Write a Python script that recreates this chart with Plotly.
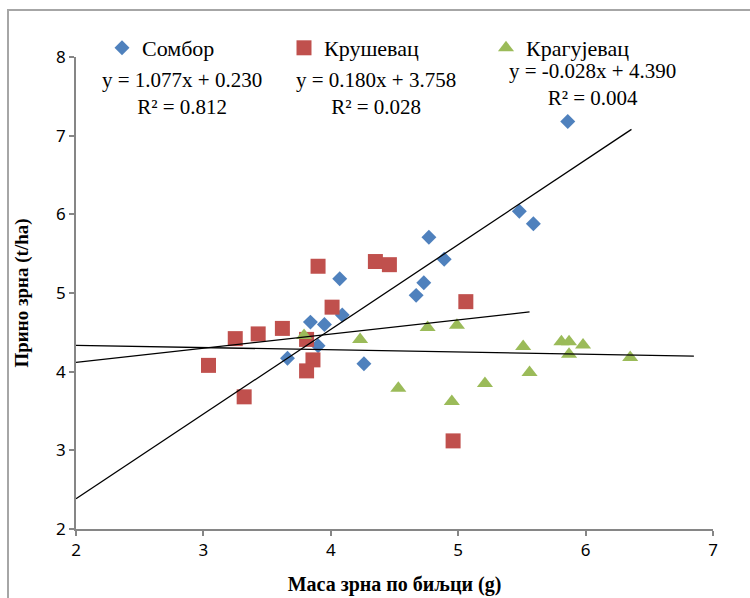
import plotly.graph_objects as go

# Grain mass per plant (g) vs. grain yield (t/ha) for three locations
somb_x = [5.86, 5.48, 5.59, 4.77, 4.89, 4.07, 4.73, 4.67, 4.09, 3.84, 3.95, 3.90, 3.66, 4.26]
somb_y = [7.18, 6.04, 5.88, 5.71, 5.43, 5.18, 5.13, 4.97, 4.72, 4.63, 4.60, 4.33, 4.17, 4.10]

krus_x = [3.90, 4.35, 4.46, 4.01, 3.62, 3.43, 3.25, 3.04, 3.32, 3.81, 3.86, 3.81, 5.06, 4.96]
krus_y = [5.34, 5.40, 5.36, 4.82, 4.55, 4.48, 4.42, 4.08, 3.68, 4.41, 4.15, 4.01, 4.89, 3.12]

krag_x = [3.79, 4.23, 4.76, 4.99, 5.51, 5.56, 5.21, 4.53, 4.95, 5.81, 5.87, 5.98, 5.87, 6.35]
krag_y = [4.46, 4.41, 4.56, 4.59, 4.32, 3.99, 3.85, 3.79, 3.62, 4.38, 4.38, 4.34, 4.22, 4.18]

series_names = ["Сомбор", "Крушевац", "Крагујевац"]
slopes = [1.077, 0.180, -0.028]
intercepts = [0.230, 3.758, 4.390]
r_squared = [0.812, 0.028, 0.004]

colors = ["#4F81BD", "#C0504D", "#9BBB59"]
symbols = ["diamond", "square", "triangle-up"]
sizes = [11.5, 15, 14]

xs = [somb_x, krus_x, krag_x]
ys = [somb_y, krus_y, krag_y]

X_MIN, X_MAX = 2, 7
Y_MIN, Y_MAX = 2, 8

fig = go.Figure()

legend_ids = ["legend", "legend2", "legend3"]

for i in range(3):
    fig.add_trace(go.Scatter(
        x=xs[i], y=ys[i], mode="markers", name=series_names[i],
        marker=dict(symbol=symbols[i], size=sizes[i], color=colors[i], line=dict(width=0)),
        legend=legend_ids[i],
    ))

# Linear trendlines, drawn from the axis minimum to half a unit past the last point
for i in range(3):
    x0 = X_MIN
    x1 = max(xs[i]) + 0.5
    fig.add_trace(go.Scatter(
        x=[x0, x1], y=[slopes[i] * x0 + intercepts[i], slopes[i] * x1 + intercepts[i]],
        mode="lines", line=dict(color="black", width=1.3), showlegend=False, hoverinfo="skip",
    ))

serif = "Liberation Serif, Times New Roman, serif"
sans = "Noto Sans, Open Sans, sans-serif"

L, R, T, B = 76, 37, 57, 69
W, H = 750, 598
pw, ph = W - L - R, H - T - B


def px_x(p):
    return (p - L) / pw


def px_y(p):
    return (H - B - p) / ph


legend_common = dict(
    orientation="h", yanchor="middle", xanchor="left", bgcolor="rgba(0,0,0,0)",
    font=dict(family=serif, size=22, color="black"), itemwidth=30,
)
legend_text_x = [142, 324, 526]
legend_y = 48
layout_legends = {}
for i, lid in enumerate(legend_ids):
    layout_legends[lid] = dict(legend_common, x=px_x(legend_text_x[i] - 40), y=px_y(legend_y))

# Equation and R² label for each trendline (two centred lines)
eq_pos = [(182, 93), (376, 93), (592, 85)]
annotations = []
for i in range(3):
    cx, cy = eq_pos[i]
    sign = "+" if intercepts[i] >= 0 else "-"
    eq = f"y = {slopes[i]:.3f}x {sign} {abs(intercepts[i]):.3f}"
    r2 = f"R² = {r_squared[i]:.3f}"
    annotations.append(dict(
        text=f"{eq}<br>{r2}", x=px_x(cx), y=px_y(cy), xref="paper", yref="paper",
        xanchor="center", yanchor="middle", align="center", showarrow=False,
        font=dict(family=serif, size=21, color="black"),
    ))

axis_common = dict(
    showgrid=False, zeroline=False, showline=True, linecolor="#868686", linewidth=1.5,
    ticks="outside", ticklen=5, tickcolor="#868686", tickwidth=1.5,
    tickfont=dict(family=sans, size=17, color="black"),
)

fig.update_layout(
    width=W, height=H,
    margin=dict(l=L, r=R, t=T, b=B, autoexpand=False),
    paper_bgcolor="white", plot_bgcolor="white",
    xaxis=dict(axis_common, range=[X_MIN, X_MAX], dtick=1,
               title=dict(text="<b>Маса зрна по биљци (g)</b>", standoff=17,
                          font=dict(family=serif, size=20, color="black"))),
    yaxis=dict(axis_common, range=[Y_MIN, Y_MAX], dtick=1,
               title=dict(text="<b>Прино зрна (t/ha)</b>", standoff=22,
                          font=dict(family=serif, size=19, color="black"))),
    annotations=annotations,
    shapes=[dict(type="rect", xref="paper", yref="paper",
                 x0=px_x(8), x1=px_x(W + 20), y0=px_y(H + 20), y1=px_y(10),
                 line=dict(color="#A6A6A6", width=2), fillcolor="rgba(0,0,0,0)", layer="below")],
    **layout_legends,
)

fig.write_html("out.html")
